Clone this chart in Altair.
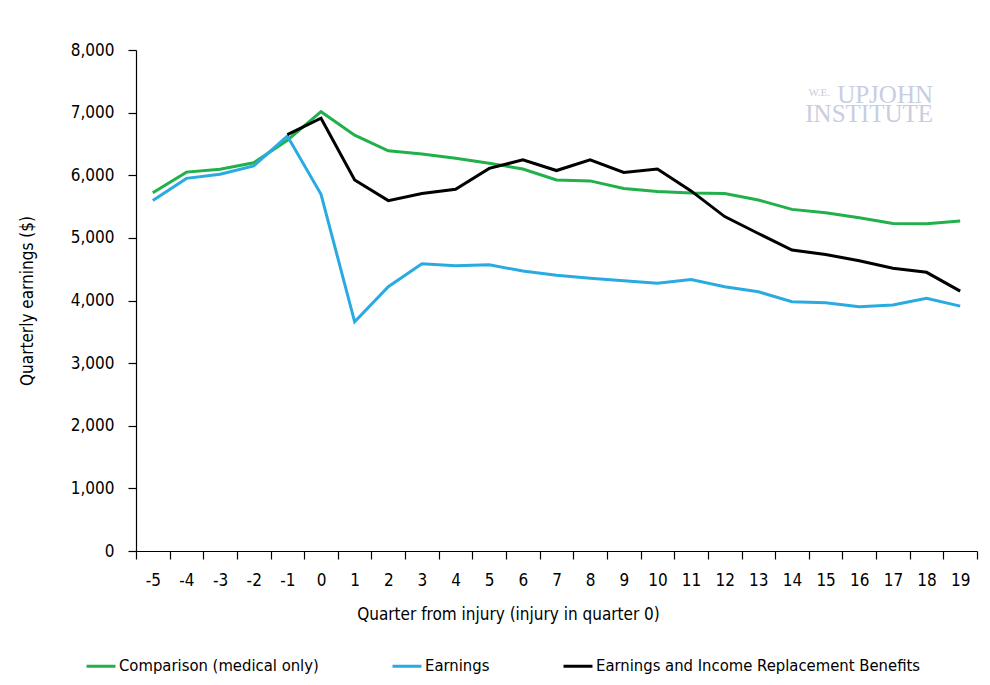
import altair as alt
import pandas as pd

quarters = list(range(-5, 20))
comparison = [5720, 6050, 6095, 6200, 6560, 7015, 6640, 6390, 6340, 6270, 6190, 6100,
              5925, 5910, 5790, 5740, 5715, 5710, 5605, 5455, 5400, 5320, 5230, 5225, 5270]
earnings = [5595, 5950, 6015, 6150, 6625, 5695, 3660, 4220, 4585, 4555, 4570, 4470,
            4405, 4355, 4315, 4275, 4335, 4220, 4140, 3980, 3965, 3900, 3930, 4035, 3910]
benefits = [None, None, None, None, 6650, 6910, 5925, 5595, 5710, 5775, 6110, 6245,
            6075, 6245, 6045, 6100, 5750, 5340, 5070, 4805, 4735, 4635, 4515, 4450, 4150]

series_names = ["Comparison (medical only)", "Earnings",
                "Earnings and Income Replacement Benefits"]
series_colors = ["#22b04b", "#29abe2", "#000000"]
y_ticks = [0, 1000, 2000, 3000, 4000, 5000, 6000, 7000, 8000]

rows = []
for name, vals in zip(series_names, [comparison, earnings, benefits]):
    for q, v in zip(quarters, vals):
        if v is not None:
            rows.append({"quarter": q, "value": v, "series": name})
df = pd.DataFrame(rows)

FONT = "'DejaVu Sans Condensed', 'Liberation Sans Narrow', sans-serif"

lines = alt.Chart(df).mark_line(strokeWidth=3).encode(
    x=alt.X("quarter:O", sort=quarters,
            scale=alt.Scale(paddingInner=0, paddingOuter=0),
            axis=alt.Axis(title="Quarter from injury (injury in quarter 0)",
                          labelAngle=0, tickBand="extent", tickSize=8,
                          labelPadding=13, titleX=372, titleY=68,
                          titleBaseline="alphabetic", titleAlign="center")),
    y=alt.Y("value:Q", scale=alt.Scale(domain=[0, 8000], nice=False),
            axis=alt.Axis(title="Quarterly earnings ($)", values=y_ticks,
                          format=",d", tickSize=8, labelPadding=14,
                          titlePadding=34)),
    color=alt.Color("series:N",
                    scale=alt.Scale(domain=series_names, range=series_colors),
                    legend=alt.Legend(title=None, orient="none", legendX=-51,
                                      legendY=600, direction="horizontal",
                                      columns=3, columnPadding=67,
                                      symbolType="stroke", symbolSize=841,
                                      symbolStrokeWidth=3, labelOffset=2,
                                      labelLimit=600)),
    order=alt.Order("quarter:Q"),
)

logo_color = "#c8cde0"
one = pd.DataFrame({"k": [0]})
we = alt.Chart(one).mark_text(text="W.E.", font="'Liberation Serif', serif",
                              fontSize=11, color=logo_color, align="right",
                              baseline="alphabetic").encode(
    x=alt.value(694), y=alt.value(46))
logo = alt.Chart(one).mark_text(text=["UPJOHN", "INSTITUTE"],
                                font="'Liberation Serif', serif",
                                fontSize=25, lineHeight=19, color=logo_color,
                                align="right", baseline="alphabetic").encode(
    x=alt.value(797), y=alt.value(53))

chart = alt.layer(lines, we, logo).properties(
    width=841, height=501,
    autosize=alt.AutoSizeParams(type="none"),
    padding={"left": 128, "top": 42, "right": 5, "bottom": 126},
    background="white",
).configure_view(stroke=None).configure_axis(
    grid=False, domainColor="black", tickColor="black", domainWidth=1.2,
    tickWidth=1.2, labelFont=FONT, titleFont=FONT, labelFontSize=17,
    titleFontSize=17, titleFontWeight="normal", labelColor="black",
    titleColor="black",
).configure_legend(
    labelFont=FONT, labelFontSize=16.5, labelColor="black",
)

chart.save("out.html", embed_options={"renderer": "svg", "actions": False})
